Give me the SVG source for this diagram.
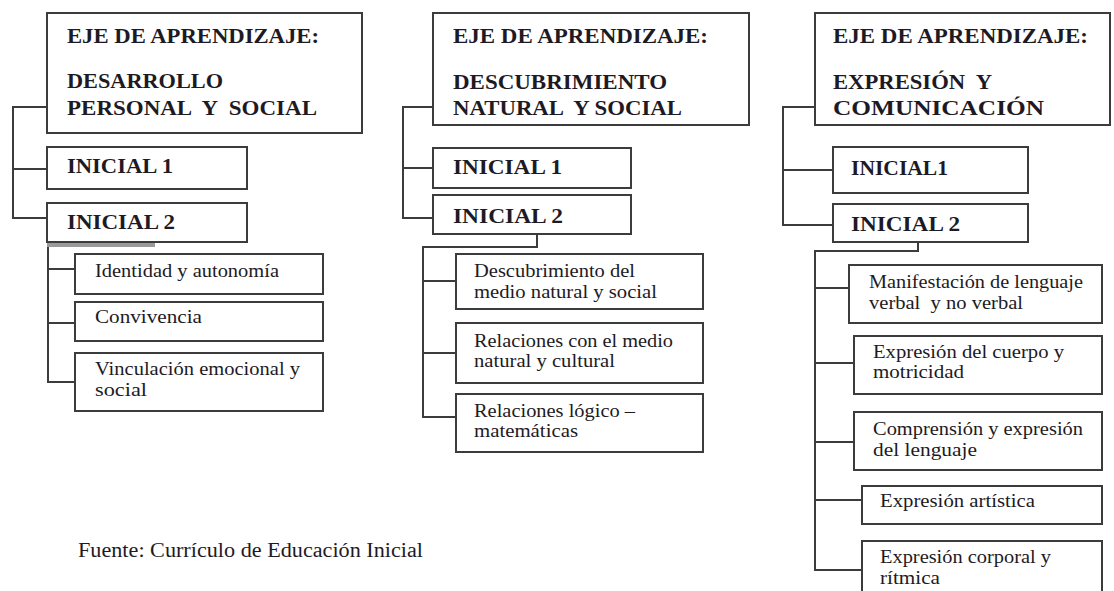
<svg xmlns="http://www.w3.org/2000/svg" width="1114" height="591" viewBox="0 0 1114 591">
<style>
.box{fill:#fff;stroke:#3c3c3c;stroke-width:2}
.con{fill:none;stroke:#3c3c3c;stroke-width:2}
.h{font-family:"Liberation Serif",serif;font-weight:bold;font-size:21px;fill:#1e1a24}
.i{font-family:"Liberation Serif",serif;font-weight:bold;font-size:20px;fill:#1e1a24}
.c{font-family:"Liberation Serif",serif;font-size:18px;fill:#1e1a24}
.f{font-family:"Liberation Serif",serif;font-size:20px;fill:#1e1a24}
</style>
<rect width="1114" height="591" fill="#fff"/>
<g id="connectors">
<path class="con" d="M47,107 H13 V218 H47 M13,169 H47"/>
<line x1="47" y1="244.5" x2="155" y2="244.5" stroke="#9a9a9a" stroke-width="5"/>
<path class="con" d="M48,247 V382 H75 M48,269 H75 M48,323 H75"/>
<path class="con" d="M433,107 H403 V218 H433 M403,168 H433"/>
<path class="con" d="M537,234 V247 H423 V417 H456 M423,281 H456 M423,353 H456"/>
<path class="con" d="M815,107 H783 V225 H833 M783,170 H833"/>
<path class="con" d="M918,242 V251 H815 V570 H862 M815,288 H849 M815,363 H854 M815,442 H854 M815,500 H862"/>
</g>
<g id="eje1">
<rect class="box" x="47" y="13" width="315" height="120"/>
<text class="h" x="67" y="43" textLength="252" lengthAdjust="spacingAndGlyphs">EJE DE APRENDIZAJE:</text>
<text class="h" x="67" y="88" textLength="156" lengthAdjust="spacingAndGlyphs">DESARROLLO</text>
<text class="h" x="67" y="115" textLength="250" lengthAdjust="spacingAndGlyphs" xml:space="preserve">PERSONAL  Y  SOCIAL</text>
</g>
<g id="ini1-1">
<rect class="box" x="47" y="147" width="200" height="42"/>
<text class="i" x="67" y="173" textLength="106" lengthAdjust="spacingAndGlyphs">INICIAL 1</text>
</g>
<g id="ini2-1">
<rect class="box" x="47" y="203" width="200" height="39"/>
<text class="i" x="67" y="229" textLength="108" lengthAdjust="spacingAndGlyphs">INICIAL 2</text>
</g>
<g id="identidad">
<rect class="box" x="75" y="254" width="248" height="40"/>
<text class="c" x="95" y="277" textLength="184" lengthAdjust="spacingAndGlyphs">Identidad y autonomía</text>
</g>
<g id="convivencia">
<rect class="box" x="75" y="302" width="248" height="39"/>
<text class="c" x="95" y="323" textLength="107" lengthAdjust="spacingAndGlyphs">Convivencia</text>
</g>
<g id="vinculacion">
<rect class="box" x="75" y="353" width="248" height="58"/>
<text class="c" x="95" y="375" textLength="205" lengthAdjust="spacingAndGlyphs">Vinculación emocional y</text>
<text class="c" x="95" y="396" textLength="52" lengthAdjust="spacingAndGlyphs">social</text>
</g>
<g id="eje2">
<rect class="box" x="433" y="13" width="316" height="112"/>
<text class="h" x="453" y="43" textLength="255" lengthAdjust="spacingAndGlyphs">EJE DE APRENDIZAJE:</text>
<text class="h" x="453" y="89" textLength="214" lengthAdjust="spacingAndGlyphs">DESCUBRIMIENTO</text>
<text class="h" x="453" y="115" textLength="229" lengthAdjust="spacingAndGlyphs" xml:space="preserve">NATURAL  Y SOCIAL</text>
</g>
<g id="ini1-2">
<rect class="box" x="433" y="148" width="198" height="40"/>
<text class="i" x="453" y="174" textLength="109" lengthAdjust="spacingAndGlyphs">INICIAL 1</text>
</g>
<g id="ini2-2">
<rect class="box" x="433" y="195" width="198" height="39"/>
<text class="i" x="453" y="223" textLength="110" lengthAdjust="spacingAndGlyphs">INICIAL 2</text>
</g>
<g id="descubrimiento">
<rect class="box" x="456" y="254" width="247" height="55"/>
<text class="c" x="474" y="277" textLength="161" lengthAdjust="spacingAndGlyphs">Descubrimiento del</text>
<text class="c" x="474" y="298" textLength="183" lengthAdjust="spacingAndGlyphs">medio natural y social</text>
</g>
<g id="relaciones">
<rect class="box" x="456" y="323" width="247" height="60"/>
<text class="c" x="474" y="347" textLength="199" lengthAdjust="spacingAndGlyphs">Relaciones con el medio</text>
<text class="c" x="474" y="367" textLength="141" lengthAdjust="spacingAndGlyphs">natural y cultural</text>
</g>
<g id="logico">
<rect class="box" x="456" y="394" width="247" height="58"/>
<text class="c" x="474" y="417" textLength="161" lengthAdjust="spacingAndGlyphs">Relaciones lógico –</text>
<text class="c" x="474" y="437" textLength="104" lengthAdjust="spacingAndGlyphs">matemáticas</text>
</g>
<g id="eje3">
<rect class="box" x="815" y="13" width="295" height="112"/>
<text class="h" x="833" y="43" textLength="255" lengthAdjust="spacingAndGlyphs">EJE DE APRENDIZAJE:</text>
<text class="h" x="833" y="89" textLength="159" lengthAdjust="spacingAndGlyphs" xml:space="preserve">EXPRESIÓN  Y</text>
<text class="h" x="833" y="115" textLength="211" lengthAdjust="spacingAndGlyphs">COMUNICACIÓN</text>
</g>
<g id="ini1-3">
<rect class="box" x="833" y="147" width="195" height="46"/>
<text class="i" x="851" y="175" textLength="97" lengthAdjust="spacingAndGlyphs">INICIAL1</text>
</g>
<g id="ini2-3">
<rect class="box" x="833" y="204" width="195" height="38"/>
<text class="i" x="851" y="231" textLength="109" lengthAdjust="spacingAndGlyphs">INICIAL 2</text>
</g>
<g id="manifestacion">
<rect class="box" x="849" y="265" width="253" height="58"/>
<text class="c" x="869" y="288" textLength="214" lengthAdjust="spacingAndGlyphs">Manifestación de lenguaje</text>
<text class="c" x="869" y="309" textLength="154" lengthAdjust="spacingAndGlyphs" xml:space="preserve">verbal  y no verbal</text>
</g>
<g id="cuerpo">
<rect class="box" x="854" y="336" width="248" height="58"/>
<text class="c" x="873" y="358" textLength="191" lengthAdjust="spacingAndGlyphs">Expresión del cuerpo y</text>
<text class="c" x="873" y="378" textLength="91" lengthAdjust="spacingAndGlyphs">motricidad</text>
</g>
<g id="comprension">
<rect class="box" x="854" y="412" width="248" height="58"/>
<text class="c" x="873" y="435" textLength="210" lengthAdjust="spacingAndGlyphs">Comprensión y expresión</text>
<text class="c" x="873" y="456" textLength="104" lengthAdjust="spacingAndGlyphs">del lenguaje</text>
</g>
<g id="artistica">
<rect class="box" x="862" y="486" width="240" height="38"/>
<text class="c" x="880" y="507" textLength="155" lengthAdjust="spacingAndGlyphs">Expresión artística</text>
</g>
<g id="corporal">
<rect class="box" x="862" y="541" width="240" height="60"/>
<text class="c" x="880" y="563" textLength="171" lengthAdjust="spacingAndGlyphs">Expresión corporal y</text>
<text class="c" x="880" y="584" textLength="60" lengthAdjust="spacingAndGlyphs">rítmica</text>
</g>
<g id="fuente">
<text class="f" x="78" y="557" textLength="345" lengthAdjust="spacingAndGlyphs">Fuente: Currículo de Educación Inicial</text>
</g>
</svg>
